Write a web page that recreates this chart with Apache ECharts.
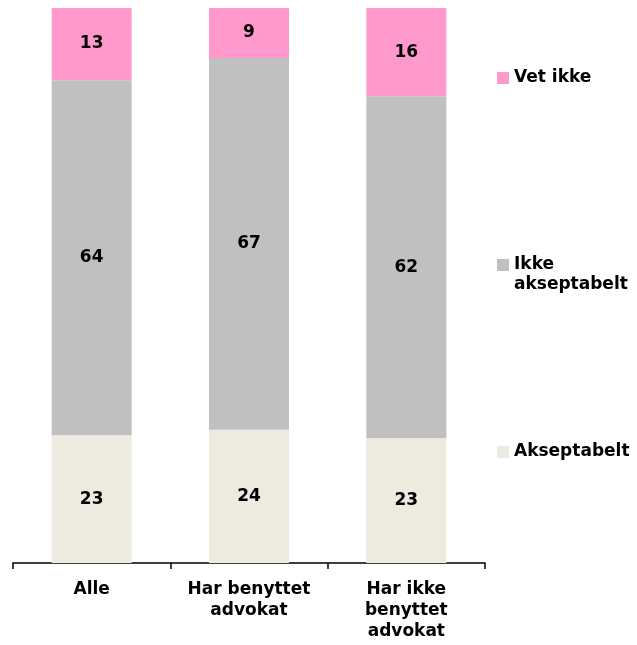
<!DOCTYPE html>
<html>
<head>
<meta charset="utf-8">
<script src="https://cdn.jsdelivr.net/npm/echarts@6/dist/echarts.min.js"></script>
<style>
  html, body { margin: 0; padding: 0; background: #fff; }
  #chart { width: 637px; height: 645px; }
</style>
</head>
<body>
<div id="chart"></div>
<script>
var categories = ['Alle', 'Har benyttet\nadvokat', 'Har ikke\nbenyttet\nadvokat'];
var akseptabelt = [23, 24, 22.5];
var ikkeAkseptabelt = [64, 67, 61.6];
var vetIkke = [13, 9, 15.9];

var font = 'DejaVu Sans';

function labelStyle() {
    return {
        show: true,
        position: 'inside',
        color: '#000',
        fontFamily: font,
        fontWeight: 'bold',
        fontSize: 17,
        formatter: function (p) { return Math.round(p.value); }
    };
}

function legendFor(name, top, formatter) {
    var l = {
        data: [name],
        left: 497,
        top: top,
        padding: 0,
        orient: 'vertical',
        itemWidth: 12,
        itemHeight: 12,
        icon: 'rect',
        selectedMode: false,
        textStyle: {
            color: '#000',
            fontFamily: font,
            fontWeight: 'bold',
            fontSize: 17,
            lineHeight: 20
        }
    };
    if (formatter) l.formatter = formatter;
    return l;
}

var chart = echarts.init(document.getElementById('chart'));

chart.setOption({
    animation: false,
    grid: { left: 13, right: 152, top: 8, bottom: 82 },
    legend: [
        legendFor('Vet ikke', 68),
        // first line of the two-line label sits level with the swatch
        legendFor('Ikke akseptabelt', 235, function () { return '\nIkke\nakseptabelt'; }),
        legendFor('Akseptabelt', 442)
    ],
    xAxis: {
        type: 'category',
        data: categories,
        axisLine: { lineStyle: { color: '#000', width: 1.5 } },
        axisTick: { show: true, inside: false, length: 6, lineStyle: { color: '#000', width: 1.5 } },
        axisLabel: {
            color: '#000',
            fontFamily: font,
            fontWeight: 'bold',
            fontSize: 17,
            lineHeight: 21,
            margin: 16,
            interval: 0
        }
    },
    yAxis: {
        type: 'value',
        min: 0,
        max: 100,
        show: false,
        splitLine: { show: false }
    },
    series: [
        {
            name: 'Akseptabelt', type: 'bar', stack: 'tot', barWidth: 80,
            itemStyle: { color: '#EDEBE0' }, label: labelStyle(), data: akseptabelt
        },
        {
            name: 'Ikke akseptabelt', type: 'bar', stack: 'tot', barWidth: 80,
            itemStyle: { color: '#C0C0C0' }, label: labelStyle(), data: ikkeAkseptabelt
        },
        {
            name: 'Vet ikke', type: 'bar', stack: 'tot', barWidth: 80,
            itemStyle: { color: '#FF99CC' }, label: labelStyle(), data: vetIkke
        }
    ]
});
</script>
</body>
</html>
